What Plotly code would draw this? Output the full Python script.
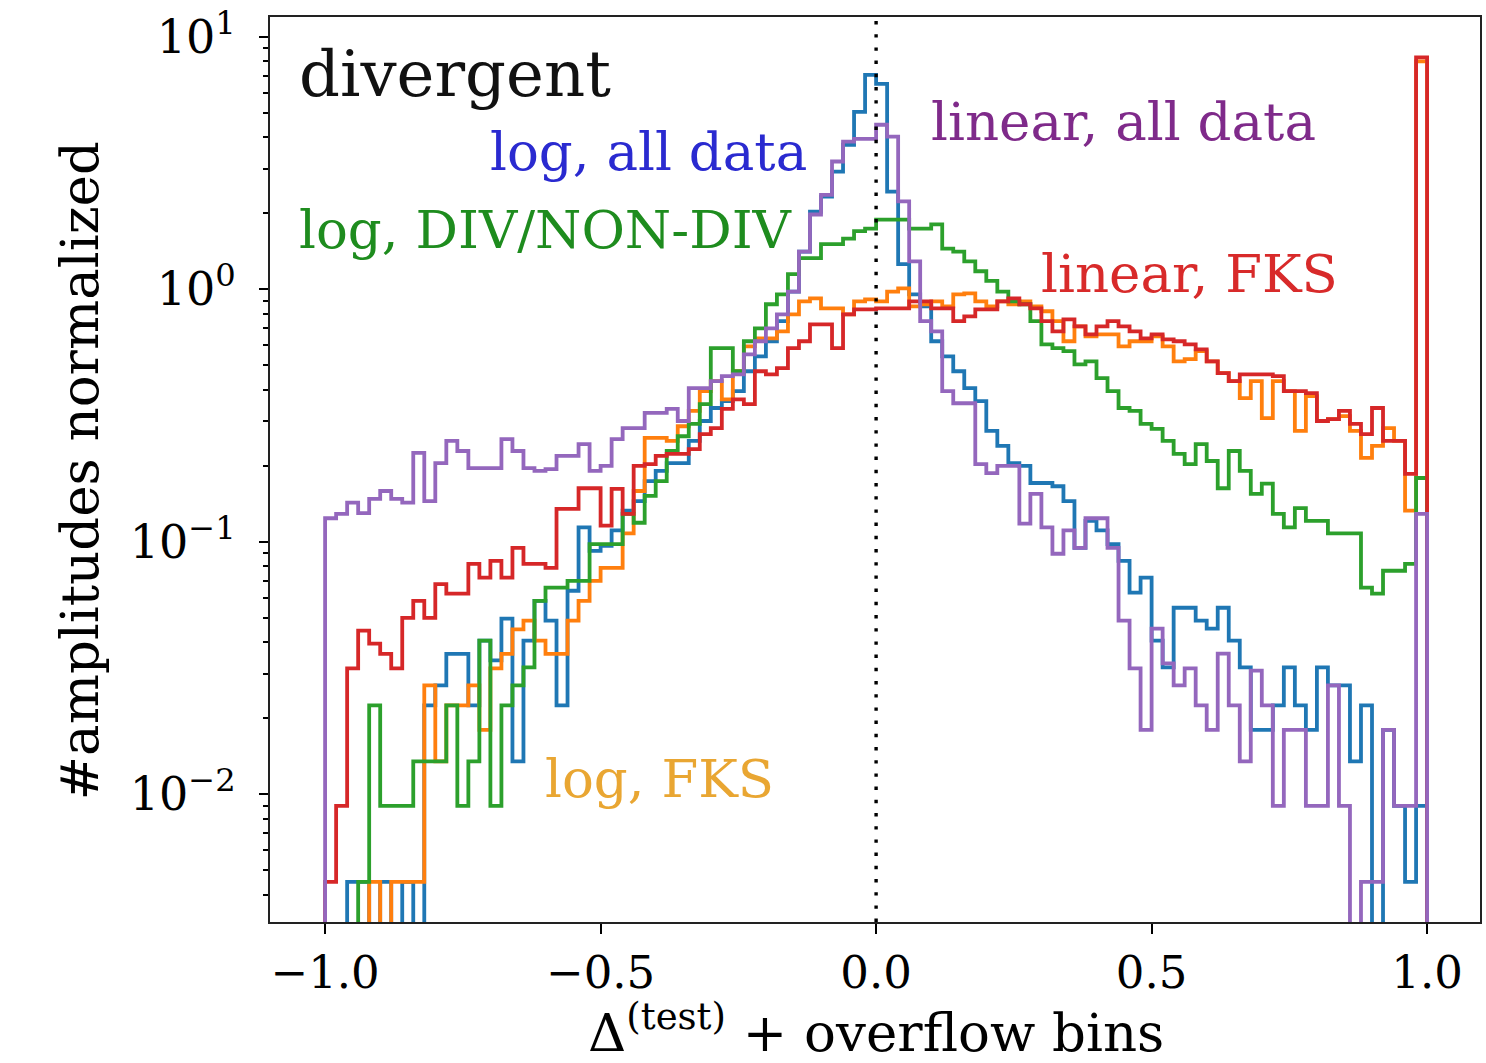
import numpy as np
import plotly.graph_objects as go

# ---------------- data (100 bins on [-1, 1], last bin holds the overflow) ----------------
bin_lo = -1.0
bin_hi = 1.0
n_bins = 100

log_all = [0, 0, 0.0045, 0.0045, 0, 0.0045, 0, 0.0045, 0, 0.0225,
           0.027, 0.036, 0.036, 0.0225, 0.0406, 0.0339, 0.0496, 0.0135, 0.0406, 0.0584,
           0.0487, 0.0225, 0.064, 0.114, 0.0921, 0.0965, 0.111, 0.133, 0.145, 0.174,
           0.191, 0.205, 0.205, 0.251, 0.301, 0.339, 0.361, 0.395, 0.474, 0.543,
           0.623, 0.748, 0.98, 1.41, 2.03, 2.33, 2.93, 3.74, 5.05, 7.07,
           6.52, 2.44, 1.26, 0.955, 0.857, 0.623, 0.543, 0.474, 0.406, 0.361,
           0.275, 0.240, 0.205, 0.200, 0.171, 0.171, 0.166, 0.145, 0.0947, 0.121,
           0.111, 0.098, 0.0841, 0.0629, 0.0721, 0.0406, 0.0318, 0.0548, 0.0548, 0.0487,
           0.0453, 0.0548, 0.0406, 0.0318, 0.018, 0.018, 0.0225, 0.0318, 0.0225, 0.018,
           0.0318, 0.027, 0.027, 0.0135, 0.0225, 0, 0.018, 0.009, 0.0045, 0.009]

log_fks = [0, 0, 0, 0, 0.0045, 0, 0.0045, 0.0045, 0.0045, 0.027,
           0.0135, 0.0225, 0.0225, 0.027, 0.018, 0.0315, 0.036, 0.045, 0.0487, 0.0406,
           0.036, 0.036, 0.0487, 0.0584, 0.070, 0.0789, 0.0789, 0.108, 0.159, 0.258,
           0.258, 0.251, 0.287, 0.330, 0.395, 0.433, 0.367, 0.474, 0.595, 0.640,
           0.640, 0.682, 0.796, 0.897, 0.921, 0.841, 0.841, 0.796, 0.897, 0.913,
           0.897, 0.98, 1.01, 0.857, 0.873, 0.897, 0.857, 0.955, 0.965, 0.897,
           0.857, 0.897, 0.873, 0.897, 0.857, 0.819, 0.748, 0.623, 0.714, 0.652,
           0.664, 0.664, 0.595, 0.623, 0.623, 0.652, 0.595, 0.519, 0.529, 0.569,
           0.519, 0.466, 0.433, 0.371, 0.433, 0.309, 0.433, 0.395, 0.275, 0.378,
           0.301, 0.306, 0.315, 0.275, 0.215, 0.240, 0.282, 0.251, 0.133, 8.0]

log_div = [0, 0, 0, 0.0045, 0.0225, 0.009, 0.009, 0.009, 0.0135, 0.0135,
           0.0135, 0.0225, 0.009, 0.0135, 0.0406, 0.009, 0.0225, 0.027, 0.0318, 0.0584,
           0.0658, 0.0658, 0.070, 0.070, 0.098, 0.098, 0.098, 0.129, 0.119, 0.152,
           0.174, 0.229, 0.262, 0.293, 0.351, 0.585, 0.585, 0.474, 0.623, 0.701,
           0.873, 0.955, 1.15, 1.33, 1.33, 1.51, 1.51, 1.59, 1.70, 1.74,
           1.89, 1.89, 1.89, 1.74, 1.74, 1.81, 1.45, 1.41, 1.29, 1.18,
           1.08, 0.98, 0.897, 0.873, 0.748, 0.606, 0.585, 0.569, 0.505, 0.519,
           0.445, 0.395, 0.339, 0.330, 0.293, 0.280, 0.251, 0.223, 0.203, 0.244,
           0.209, 0.163, 0.229, 0.191, 0.155, 0.170, 0.129, 0.114, 0.136, 0.121,
           0.121, 0.108, 0.108, 0.108, 0.0658, 0.0623, 0.0768, 0.0768, 0.0818, 0.179]

linear_fks = [0.0045, 0.009, 0.0315, 0.0445, 0.0395, 0.036, 0.0315, 0.050, 0.0584, 0.050,
              0.068, 0.0623, 0.0623, 0.0818, 0.0721, 0.0841, 0.0721, 0.0947, 0.0818, 0.0818,
              0.0789, 0.135, 0.135, 0.163, 0.163, 0.116, 0.162, 0.129, 0.200, 0.203,
              0.219, 0.223, 0.223, 0.233, 0.267, 0.282, 0.336, 0.367, 0.351, 0.474,
              0.461, 0.488, 0.585, 0.623, 0.727, 0.727, 0.585, 0.796, 0.834, 0.834,
              0.841, 0.841, 0.841, 0.897, 0.897, 0.841, 0.841, 0.748, 0.782, 0.834,
              0.834, 0.897, 0.921, 0.873, 0.841, 0.748, 0.682, 0.761, 0.714, 0.664,
              0.714, 0.748, 0.714, 0.682, 0.640, 0.664, 0.634, 0.623, 0.606, 0.579,
              0.519, 0.466, 0.433, 0.461, 0.461, 0.461, 0.453, 0.395, 0.395, 0.388,
              0.301, 0.306, 0.330, 0.293, 0.267, 0.339, 0.251, 0.251, 0.186, 8.3]

linear_all = [0.124, 0.129, 0.143, 0.130, 0.148, 0.159, 0.148, 0.143, 0.225, 0.145,
              0.205, 0.251, 0.229, 0.196, 0.196, 0.196, 0.255, 0.229, 0.196, 0.191,
              0.194, 0.219, 0.219, 0.244, 0.191, 0.200, 0.255, 0.282, 0.282, 0.324,
              0.324, 0.336, 0.301, 0.406, 0.406, 0.433, 0.453, 0.461, 0.553, 0.623,
              0.701, 0.796, 0.98, 1.41, 1.98, 2.37, 3.21, 3.85, 3.95, 3.95,
              4.49, 4.03, 2.23, 1.29, 0.748, 0.682, 0.395, 0.354, 0.354, 0.203,
              0.187, 0.200, 0.200, 0.118, 0.155, 0.114, 0.0897, 0.111, 0.0947, 0.124,
              0.124, 0.0947, 0.0487, 0.0315, 0.018, 0.0453, 0.0330, 0.027, 0.0315, 0.0225,
              0.018, 0.0361, 0.0225, 0.0135, 0.0309, 0.0225, 0.009, 0.018, 0.018, 0.009,
              0.009, 0.027, 0.009, 0, 0.0045, 0.0045, 0.018, 0.009, 0.009, 0.129]

series_names = ["log, all data", "log, FKS", "log, DIV/NON-DIV", "linear, FKS", "linear, all data"]
series_values = [log_all, log_fks, log_div, linear_fks, linear_all]
line_colors = ["#1f77b4", "#ff7f0e", "#2ca02c", "#d62728", "#9467bd"]

x_ticks = [-1.0, -0.5, 0.0, 0.5, 1.0]
x_ticktext = ["\u22121.0", "\u22120.5", "0.0", "0.5", "1.0"]
y_ticks = [0.01, 0.1, 1, 10]
y_ticktext = ["10<sup>\u22122</sup>", "10<sup>\u22121</sup>", "10<sup>0</sup>", "10<sup>1</sup>"]

labels = [
    ("divergent", 455, 72, "#111111", 64),
    ("log, all data", 649, 150, "#2a2ad0", 53),
    ("log, DIV/NON-DIV", 546, 228, "#1e8c1e", 53),
    ("linear, all data", 1125, 120, "#7f2a8a", 53),
    ("linear, FKS", 1191, 272, "#d82a2a", 53),
    ("log, FKS", 660, 778, "#e9a632", 53),
]

# ---------------- figure ----------------
W, H = 1486, 1063
L, R, T, B = 270, 4, 15, 141
PW, PH = W - L - R, H - T - B
FONT = "DejaVu Serif"
FLOOR = 1e-5  # empty bins drop below the axis, like matplotlib's step on a log scale

edges = np.linspace(bin_lo, bin_hi, n_bins + 1)

fig = go.Figure()
for name, vals, col in zip(series_names, series_values, line_colors):
    v = [val if val > 0 else FLOOR for val in vals]
    xs = [edges[0]] + list(edges[:-1]) + [edges[-1], edges[-1]]
    ys = [FLOOR] + v + [v[-1], FLOOR]
    fig.add_trace(go.Scatter(x=xs, y=ys, mode="lines", name=name,
                             line=dict(color=col, width=3.8, shape="hv"),
                             showlegend=False, hoverinfo="skip"))

fig.add_shape(type="line", xref="x", yref="paper", x0=0, x1=0, y0=0, y1=1,
              line=dict(color="black", width=3.4, dash="3.4px,9.8px"), layer="above")

def px2paper(px, py):
    return (px - L) / PW, (H - B - py) / PH

for text, cx, cy, col, size in labels:
    xp, yp = px2paper(cx, cy)
    fig.add_annotation(x=xp, y=yp, xref="paper", yref="paper", text=text, showarrow=False,
                       xanchor="center", yanchor="middle",
                       font=dict(family=FONT, size=size, color=col))

xp, yp = px2paper(877, 1029)
fig.add_annotation(x=xp, y=yp, xref="paper", yref="paper",
                   text="\u0394<sup>(test)</sup> + overflow bins", showarrow=False,
                   xanchor="center", yanchor="middle",
                   font=dict(family=FONT, size=53, color="black"))
xp, yp = px2paper(80, 470)
fig.add_annotation(x=xp, y=yp, xref="paper", yref="paper",
                   text="#amplitudes normalized", showarrow=False, textangle=-90,
                   xanchor="center", yanchor="middle",
                   font=dict(family=FONT, size=53, color="black"))

minor_vals = [m * 10.0 ** e for e in range(-3, 2) for m in range(2, 10)]

fig.update_layout(
    width=W, height=H,
    margin=dict(l=L, r=R, t=T, b=B, pad=0),
    paper_bgcolor="white", plot_bgcolor="white",
    showlegend=False,
    xaxis=dict(range=[-1.1, 1.096], tickvals=x_ticks, ticktext=x_ticktext,
               ticks="outside", ticklen=10, tickwidth=2, tickcolor="black",
               showline=True, mirror=True, linecolor="#222222", linewidth=2,
               showgrid=False, zeroline=False,
               tickfont=dict(family=FONT, size=45, color="black")),
    yaxis=dict(type="log", range=[-2.506, 1.079], tickvals=y_ticks, ticktext=y_ticktext,
               ticks="outside", ticklen=9, tickwidth=2, tickcolor="black",
               ticklabelstandoff=14,
               minor=dict(tickvals=minor_vals, ticks="outside", ticklen=5, tickwidth=1.5,
                          tickcolor="black", showgrid=False),
               showline=True, mirror=True, linecolor="#222222", linewidth=2,
               showgrid=False, zeroline=False,
               tickfont=dict(family=FONT, size=46, color="black")),
)

fig.write_html("out.html")
